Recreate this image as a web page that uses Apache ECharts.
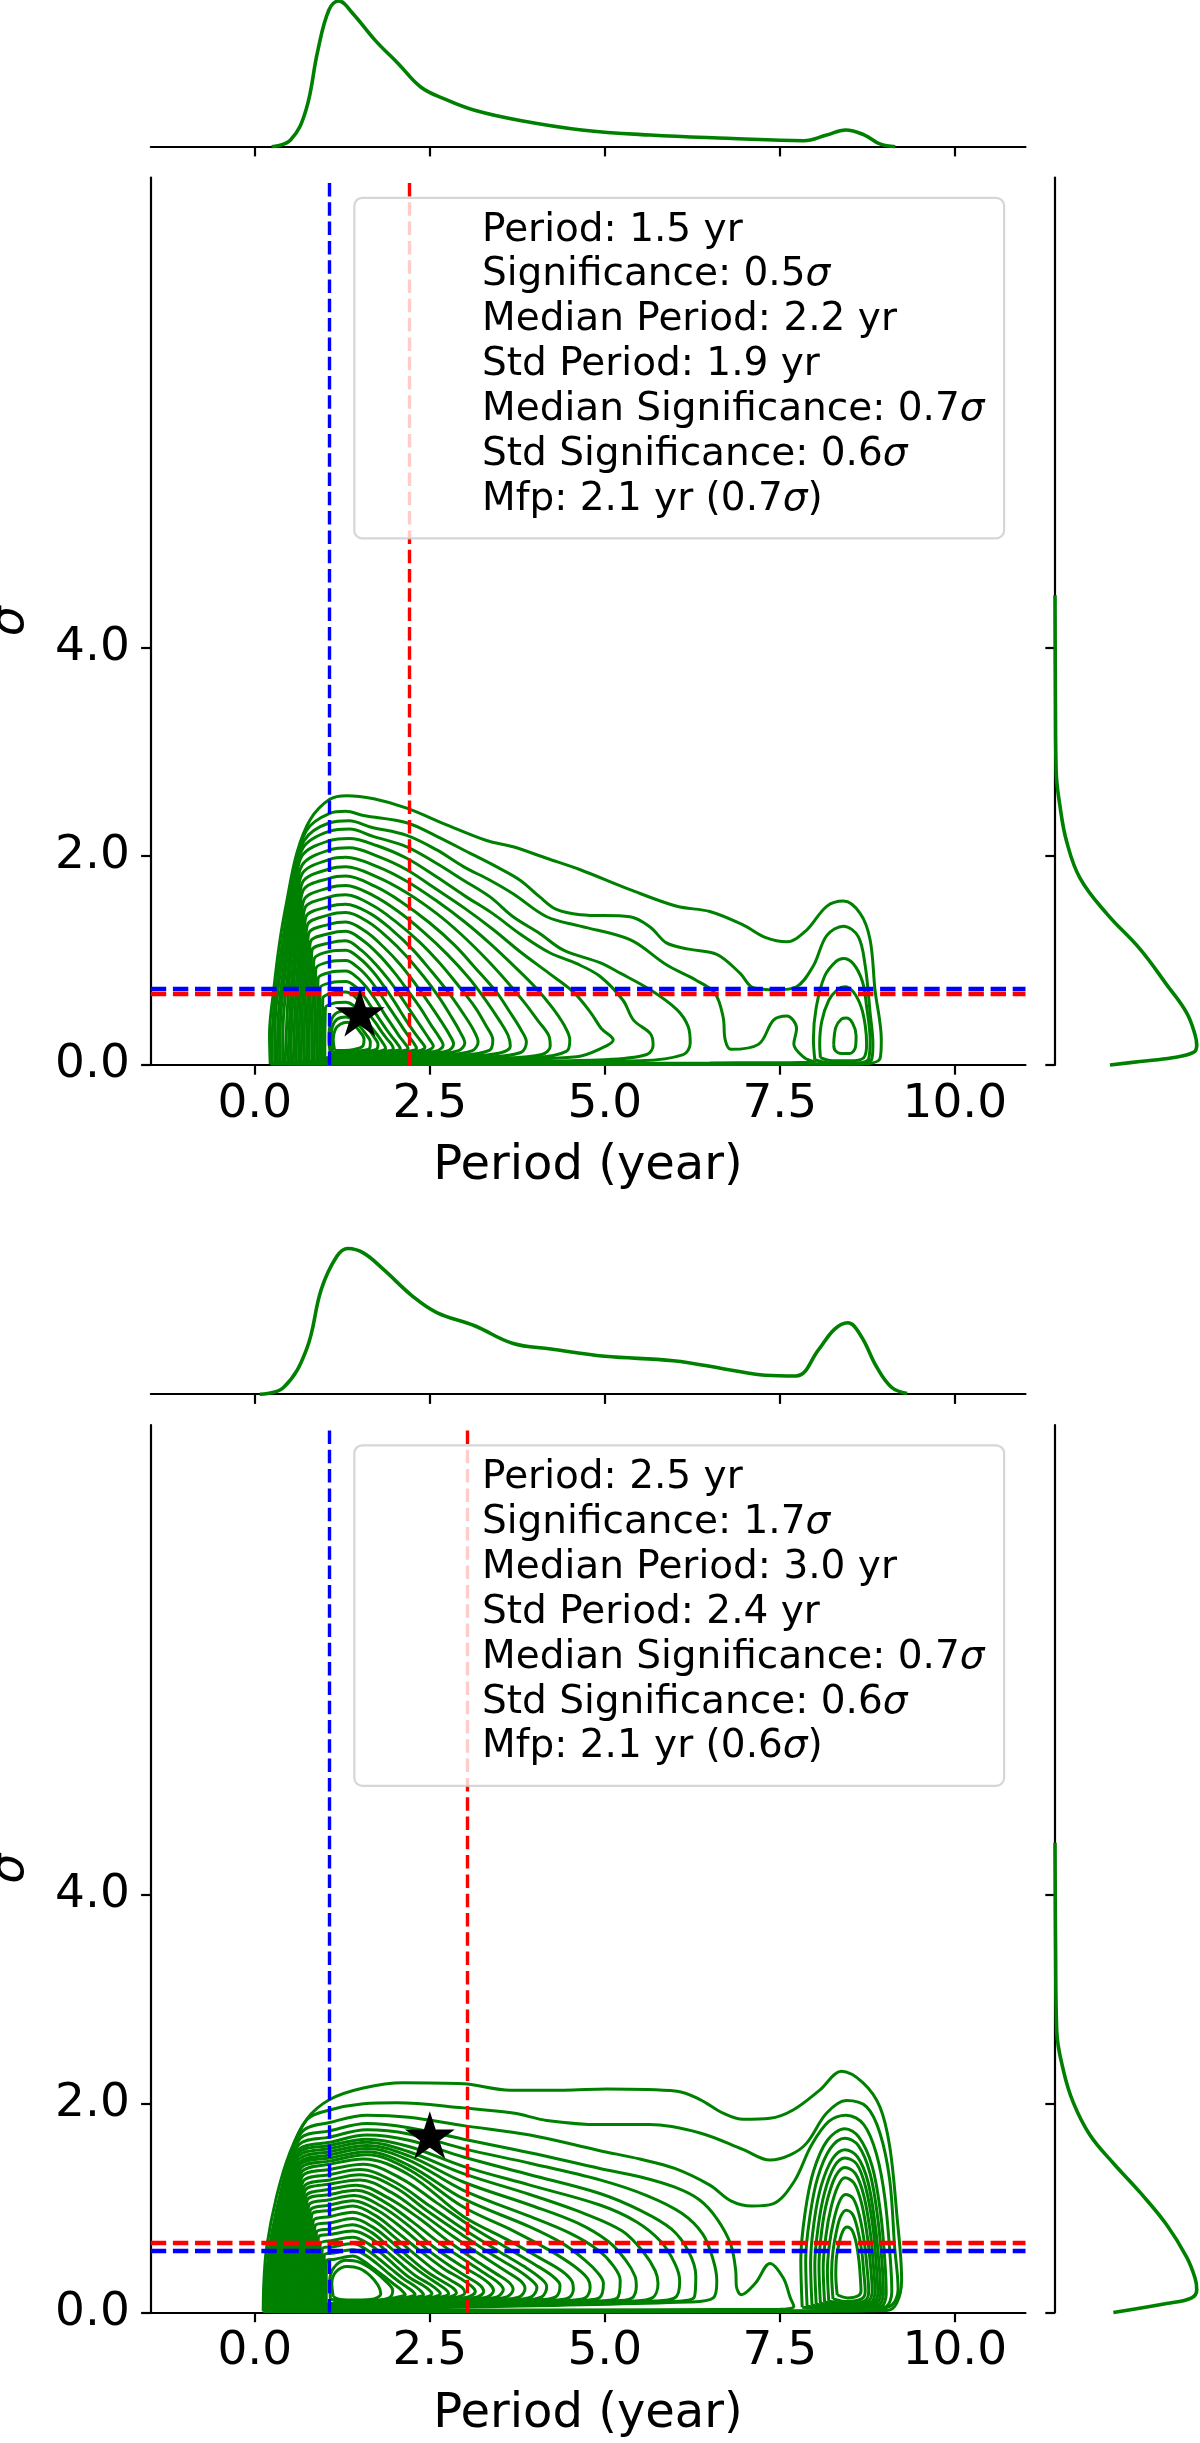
<!DOCTYPE html>
<html><head><meta charset="utf-8">
<script src="https://cdn.jsdelivr.net/npm/echarts@6/dist/echarts.min.js"></script>
<style>html,body{margin:0;padding:0;background:#fff}#c{width:1200px;height:2443px}</style>
</head><body><div id="c"></div>
<script>
// ---------------- axes / ticks ----------------
const X_RANGE = [-1.486, 11.01];
const Y_RANGE = [0, 8.5];
const X_TICKS = [0, 2.5, 5, 7.5, 10];
const Y_TICKS = [0, 2, 4];

// ---------------- top panel ----------------
const TOP_STAR = [[1.5, 0.5]];
const TOP_PERIOD_LINES = [1.07, 2.2];   // blue, red (vertical)
const TOP_SIGMA_LINES = [0.73, 0.68];   // blue, red (horizontal)
const TOP_LEGEND = ["Period: 1.5 yr","Significance: 0.5σ","Median Period: 2.2 yr","Std Period: 1.9 yr","Median Significance: 0.7σ","Std Significance: 0.6σ","Mfp: 2.1 yr (0.7σ)"];
const TOP_PERIOD_KDE = [[0.24,0],[0.51,0.046],[0.73,0.25],[0.9,0.66],[1.06,0.94],[1.2,1.0],[1.39,0.92],[1.72,0.73],[2.05,0.57],[2.37,0.41],[2.7,0.33],[3.14,0.25],[3.79,0.18],[4.67,0.115],[5.65,0.08],[6.75,0.058],[7.84,0.041],[8.17,0.08],[8.44,0.115],[8.71,0.08],[8.93,0.019],[9.15,0]];
const TOP_SIGMA_KDE = [[0,4.5],[0.003,3.5],[0.008,2.82],[0.035,2.48],[0.082,2.14],[0.176,1.79],[0.364,1.45],[0.599,1.11],[0.786,0.77],[0.927,0.5],[0.986,0.29],[0.998,0.19],[0.974,0.12],[0.826,0.07],[0.599,0.034],[0.387,0]];
const TOP_CONTOURS = [
[[0.22,0.01],[0.21,0.3],[0.27,0.72],[0.36,1.2],[0.46,1.58],[0.6,2.03],[0.79,2.35],[1.07,2.545],[1.31,2.58],[1.7,2.55],[2.17,2.46],[2.74,2.3],[3.31,2.15],[3.69,2.09],[4.17,1.98],[4.65,1.87],[5.36,1.68],[6.03,1.52],[6.5,1.47],[6.98,1.34],[7.3,1.22],[7.6,1.18],[7.88,1.29],[8.17,1.52],[8.41,1.57],[8.65,1.45],[8.79,1.2],[8.86,0.72],[8.95,0.24],[8.93,0.06],[8.6,0.008],[4.5,0.005],[1.0,0.006]],
[[0.247,0.015],[0.25,0.3],[0.349,0.97],[0.56,1.82],[0.731,2.24],[1.07,2.41],[1.3,2.43],[1.55,2.39],[2.17,2.32],[2.6,2.19],[3.07,2.03],[3.45,1.9],[3.79,1.77],[4.07,1.61],[4.31,1.49],[4.65,1.44],[5.36,1.42],[5.65,1.32],[5.88,1.17],[6.2,1.11],[6.6,1.06],[6.93,0.88],[7.12,0.74],[7.45,0.72],[7.74,0.75],[7.98,0.95],[8.17,1.24],[8.41,1.33],[8.62,1.23],[8.72,0.95],[8.79,0.5],[8.83,0.2],[8.81,0.05],[8.5,0.015],[4.5,0.01],[1.0,0.012]],
[[0.285,0.02],[0.29,0.4],[0.376,0.94],[0.564,1.76],[0.705,2.15],[1.07,2.32],[1.35,2.34],[1.65,2.28],[2.17,2.2],[2.6,2.06],[2.98,1.9],[3.36,1.77],[3.69,1.64],[4.17,1.42],[4.65,1.33],[5.36,1.2],[5.88,0.96],[6.31,0.81],[6.57,0.69],[6.69,0.46],[6.72,0.24],[6.8,0.15],[7.2,0.2],[7.41,0.43],[7.6,0.47],[7.74,0.35],[7.7,0.2],[7.85,0.07],[8.0,0.03],[6.5,0.02],[3.0,0.015],[1.0,0.016]],
[[0.323,0.02],[0.33,0.4],[0.405,0.9],[0.572,1.7],[0.687,2.08],[1.07,2.24],[1.35,2.26],[1.69,2.19],[2.17,2.09],[2.6,1.93],[2.98,1.77],[3.36,1.61],[3.69,1.42],[4.07,1.26],[4.41,1.1],[4.93,0.98],[5.22,0.88],[5.65,0.72],[6.03,0.53],[6.19,0.37],[6.22,0.21],[6.12,0.1],[5.5,0.04],[3.0,0.02],[1.0,0.02]],
[[0.359,0.02],[0.365,0.4],[0.432,0.87],[0.579,1.63],[0.67,2.0],[1.07,2.15],[1.35,2.17],[1.75,2.1],[2.17,1.98],[2.6,1.8],[3.0,1.62],[3.4,1.45],[3.8,1.25],[4.2,1.08],[4.6,0.97],[4.93,0.85],[5.26,0.62],[5.41,0.43],[5.65,0.3],[5.69,0.19],[5.6,0.1],[5.0,0.05],[2.5,0.025],[1.0,0.022]],
[[0.398,0.02],[0.405,0.4],[0.463,0.83],[0.59,1.56],[0.672,1.91],[1.07,2.06],[1.35,2.08],[1.75,2.0],[2.17,1.87],[2.6,1.68],[3.0,1.5],[3.4,1.3],[3.8,1.08],[4.2,0.88],[4.55,0.7],[4.8,0.5],[4.95,0.35],[5.12,0.24],[4.95,0.16],[4.6,0.08],[2.5,0.03],[1.0,0.025]],
[[0.434,0.02],[0.49,0.8],[0.601,1.49],[0.674,1.83],[1.07,1.97],[1.3,1.99],[1.75,1.9],[2.17,1.76],[2.6,1.57],[3.0,1.37],[3.35,1.17],[3.7,0.95],[4.0,0.75],[4.25,0.55],[4.42,0.38],[4.5,0.24],[4.45,0.13],[4.0,0.07],[2.0,0.035],[1.0,0.03]],
[[0.474,0.02],[0.523,0.76],[0.619,1.43],[0.681,1.75],[1.07,1.88],[1.3,1.9],[1.75,1.8],[2.17,1.65],[2.6,1.45],[2.95,1.25],[3.3,1.02],[3.6,0.8],[3.85,0.6],[4.05,0.42],[4.2,0.28],[4.22,0.18],[4.1,0.1],[3.5,0.065],[1.8,0.04],[1.0,0.032]],
[[0.509,0.02],[0.551,0.72],[0.634,1.36],[0.688,1.67],[1.07,1.79],[1.3,1.81],[1.72,1.71],[2.1,1.56],[2.5,1.36],[2.85,1.15],[3.15,0.93],[3.45,0.7],[3.65,0.5],[3.8,0.34],[3.88,0.22],[3.8,0.12],[3.3,0.075],[1.8,0.045],[1.0,0.035]],
[[0.55,0.02],[0.586,0.69],[0.656,1.29],[0.701,1.58],[1.07,1.7],[1.3,1.72],[1.7,1.62],[2.05,1.47],[2.4,1.28],[2.75,1.06],[3.05,0.84],[3.3,0.62],[3.5,0.42],[3.62,0.28],[3.65,0.18],[3.5,0.115],[3.0,0.08],[1.7,0.05],[1.0,0.038]],
[[0.588,0.02],[0.617,0.65],[0.677,1.22],[0.713,1.5],[1.07,1.61],[1.3,1.63],[1.68,1.53],[2.0,1.38],[2.35,1.18],[2.65,0.97],[2.92,0.75],[3.15,0.55],[3.3,0.38],[3.4,0.24],[3.35,0.14],[2.9,0.09],[1.6,0.055],[1.0,0.04]],
[[0.625,0.02],[0.65,0.62],[0.699,1.16],[0.73,1.42],[1.07,1.52],[1.3,1.54],[1.65,1.45],[1.95,1.3],[2.25,1.11],[2.52,0.9],[2.76,0.7],[2.97,0.5],[3.12,0.34],[3.19,0.22],[3.1,0.135],[2.7,0.095],[1.5,0.06],[1.0,0.042]],
[[0.662,0.025],[0.682,0.58],[0.723,1.1],[0.75,1.34],[1.07,1.44],[1.3,1.46],[1.62,1.37],[1.9,1.22],[2.17,1.04],[2.42,0.84],[2.63,0.65],[2.8,0.47],[2.93,0.32],[3.0,0.21],[2.9,0.135],[2.5,0.1],[1.5,0.065],[1.0,0.045]],
[[0.7,0.025],[0.715,0.55],[0.748,1.03],[0.77,1.26],[1.07,1.35],[1.3,1.37],[1.58,1.28],[1.84,1.13],[2.08,0.96],[2.3,0.77],[2.5,0.58],[2.66,0.42],[2.78,0.29],[2.84,0.2],[2.75,0.135],[2.35,0.105],[1.5,0.07],[1.0,0.048]],
[[0.738,0.025],[0.75,0.51],[0.776,0.96],[0.794,1.18],[1.07,1.26],[1.3,1.28],[1.55,1.19],[1.78,1.05],[2.0,0.88],[2.2,0.7],[2.38,0.53],[2.52,0.38],[2.63,0.27],[2.69,0.19],[2.6,0.135],[2.2,0.11],[1.5,0.072],[1.0,0.05]],
[[0.774,0.03],[0.783,0.48],[0.804,0.89],[0.817,1.1],[1.07,1.17],[1.3,1.19],[1.52,1.1],[1.72,0.97],[1.92,0.81],[2.1,0.64],[2.26,0.48],[2.39,0.35],[2.49,0.25],[2.55,0.18],[2.45,0.135],[2.1,0.115],[1.5,0.075],[1.0,0.055]],
[[0.814,0.03],[0.82,0.44],[0.836,0.83],[0.844,1.01],[1.08,1.09],[1.3,1.1],[1.5,1.02],[1.68,0.9],[1.85,0.75],[2.01,0.59],[2.15,0.44],[2.27,0.32],[2.37,0.23],[2.43,0.17],[2.33,0.135],[2.0,0.118],[1.5,0.078],[1.0,0.058]],
[[0.85,0.035],[0.855,0.4],[0.865,0.75],[0.871,0.92],[1.08,0.99],[1.3,1.0],[1.48,0.93],[1.64,0.82],[1.79,0.68],[1.93,0.54],[2.06,0.41],[2.17,0.3],[2.26,0.22],[2.31,0.16],[2.22,0.135],[1.9,0.12],[1.5,0.08],[1.0,0.06]],
[[0.889,0.035],[0.893,0.36],[0.899,0.68],[0.904,0.83],[1.09,0.89],[1.3,0.9],[1.46,0.84],[1.6,0.74],[1.73,0.62],[1.85,0.49],[1.96,0.38],[2.06,0.28],[2.14,0.21],[2.19,0.16],[2.1,0.135],[1.85,0.122],[1.5,0.082],[1.0,0.062]],
[[0.924,0.04],[0.927,0.32],[0.931,0.6],[0.935,0.74],[1.1,0.79],[1.3,0.8],[1.44,0.75],[1.56,0.66],[1.67,0.55],[1.78,0.44],[1.88,0.34],[1.97,0.26],[2.04,0.2],[2.08,0.155],[2.0,0.135],[1.8,0.124],[1.5,0.084],[1.0,0.064]],
[[0.965,0.04],[0.966,0.28],[0.968,0.52],[0.972,0.64],[1.11,0.69],[1.3,0.7],[1.42,0.66],[1.53,0.58],[1.63,0.49],[1.73,0.4],[1.82,0.31],[1.9,0.24],[1.96,0.19],[1.98,0.15],[1.9,0.135],[1.72,0.125],[1.45,0.086],[1.03,0.066]],
[[1.0,0.05],[1.0,0.24],[1.005,0.45],[1.01,0.55],[1.12,0.59],[1.3,0.6],[1.41,0.57],[1.51,0.5],[1.6,0.42],[1.69,0.34],[1.77,0.27],[1.83,0.21],[1.87,0.16],[1.8,0.135],[1.65,0.12],[1.4,0.088],[1.06,0.07]],
[[1.08,0.1],[1.06,0.25],[1.08,0.4],[1.15,0.49],[1.3,0.52],[1.42,0.49],[1.52,0.43],[1.62,0.35],[1.7,0.27],[1.76,0.2],[1.74,0.15],[1.6,0.13],[1.4,0.11],[1.2,0.1]],
[[1.11,0.12],[1.09,0.25],[1.11,0.37],[1.18,0.44],[1.3,0.46],[1.41,0.43],[1.5,0.37],[1.58,0.3],[1.65,0.22],[1.64,0.16],[1.5,0.135],[1.3,0.125]],
[[1.14,0.14],[1.12,0.25],[1.15,0.34],[1.22,0.39],[1.32,0.41],[1.42,0.38],[1.5,0.32],[1.56,0.25],[1.54,0.18],[1.42,0.15],[1.28,0.14]],
// loops around the 8.4 yr peak
[[8.0,0.05],[7.98,0.25],[8.02,0.55],[8.14,0.85],[8.3,0.99],[8.41,1.02],[8.55,0.97],[8.68,0.8],[8.74,0.56],[8.79,0.24],[8.77,0.06],[8.6,0.02],[8.2,0.02]],
[[8.08,0.07],[8.07,0.2],[8.1,0.42],[8.2,0.62],[8.32,0.72],[8.43,0.75],[8.55,0.7],[8.66,0.56],[8.72,0.38],[8.74,0.2],[8.7,0.07],[8.5,0.04],[8.25,0.04]],
[[8.27,0.2],[8.3,0.36],[8.38,0.44],[8.45,0.45],[8.54,0.4],[8.59,0.28],[8.58,0.17],[8.5,0.11],[8.38,0.11],[8.29,0.14]]
];

// ---------------- bottom panel ----------------
const BOT_STAR = [[2.5, 1.7]];
const BOT_PERIOD_LINES = [1.07, 3.03];
const BOT_SIGMA_LINES = [0.59, 0.67];
const BOT_LEGEND = ["Period: 2.5 yr","Significance: 1.7σ","Median Period: 3.0 yr","Std Period: 2.4 yr","Median Significance: 0.7σ","Std Significance: 0.6σ","Mfp: 2.1 yr (0.6σ)"];
const BOT_PERIOD_KDE = [[0.07,0],[0.41,0.046],[0.74,0.31],[0.95,0.72],[1.17,0.945],[1.33,1.0],[1.55,0.97],[1.83,0.86],[2.26,0.67],[2.6,0.56],[3.14,0.47],[3.68,0.35],[4.23,0.31],[5.0,0.26],[5.98,0.23],[6.75,0.17],[7.29,0.13],[7.73,0.125],[8.06,0.31],[8.28,0.445],[8.47,0.49],[8.66,0.4],[8.88,0.19],[9.1,0.046],[9.32,0.005]];
const BOT_SIGMA_KDE = [[0,4.5],[0.004,3.5],[0.012,2.7],[0.059,2.32],[0.129,2.01],[0.246,1.7],[0.411,1.43],[0.599,1.15],[0.786,0.84],[0.927,0.53],[0.986,0.33],[0.998,0.22],[0.962,0.14],[0.786,0.086],[0.411,0]];
const BOT_CONTOURS = [
[[0.12,0.01],[0.13,0.3],[0.17,0.63],[0.31,1.11],[0.5,1.53],[0.74,1.85],[1.07,2.04],[1.55,2.15],[2.12,2.2],[2.98,2.19],[3.65,2.13],[4.41,2.13],[5.03,2.14],[6.03,2.12],[6.36,2.04],[6.69,1.91],[6.98,1.85],[7.36,1.86],[7.69,1.94],[8.07,2.13],[8.38,2.31],[8.69,2.2],[8.93,1.97],[9.07,1.59],[9.17,0.95],[9.24,0.31],[9.17,0.09],[9.03,0.02],[4.5,0.005],[1.0,0.006]],
[[0.151,0.015],[0.16,0.3],[0.254,0.8],[0.513,1.51],[0.749,1.85],[1.07,1.94],[1.55,2.0],[2.03,2.01],[2.98,1.96],[3.69,1.91],[4.17,1.84],[4.93,1.8],[5.64,1.8],[6.36,1.72],[6.98,1.56],[7.36,1.46],[7.65,1.51],[7.88,1.62],[8.17,1.91],[8.45,2.03],[8.74,1.97],[8.93,1.72],[9.07,1.27],[9.14,0.63],[9.19,0.22],[9.07,0.06],[8.5,0.015],[4.5,0.01],[1.0,0.012]],
[[0.182,0.015],[0.19,0.3],[0.27,0.76],[0.493,1.42],[0.687,1.74],[1.07,1.82],[1.6,1.89],[2.2,1.87],[2.98,1.79],[3.93,1.7],[4.93,1.55],[5.5,1.47],[6.0,1.38],[6.5,1.22],[6.8,1.07],[7.1,1.02],[7.4,1.04],[7.7,1.25],[7.95,1.6],[8.2,1.83],[8.45,1.89],[8.7,1.8],[8.88,1.52],[9.0,1.1],[9.08,0.5],[9.1,0.2],[9.0,0.05],[8.5,0.02],[4.5,0.015],[1.0,0.016]],
[[0.213,0.02],[0.22,0.3],[0.29,0.72],[0.488,1.36],[0.652,1.67],[1.07,1.74],[1.6,1.81],[2.2,1.77],[2.98,1.66],[3.93,1.53],[4.93,1.38],[5.5,1.3],[6.0,1.2],[6.35,1.08],[6.6,0.9],[6.8,0.65],[6.87,0.4],[6.88,0.25],[6.95,0.17],[7.15,0.28],[7.36,0.47],[7.55,0.33],[7.65,0.14],[7.7,0.06],[7.5,0.03],[4.0,0.025],[1.0,0.02]],
[[0.244,0.02],[0.25,0.3],[0.311,0.7],[0.492,1.31],[0.633,1.61],[1.07,1.68],[1.6,1.75],[2.2,1.71],[2.98,1.57],[3.93,1.43],[4.93,1.27],[5.6,1.12],[6.1,0.95],[6.4,0.75],[6.55,0.5],[6.6,0.3],[6.55,0.14],[6.2,0.1],[1.5,0.032],[1.0,0.025]],
[[0.275,0.02],[0.28,0.3],[0.335,0.68],[0.499,1.28],[0.622,1.56],[1.07,1.63],[1.6,1.7],[2.2,1.65],[2.98,1.49],[3.93,1.32],[4.93,1.14],[5.5,0.98],[5.95,0.8],[6.2,0.58],[6.3,0.35],[6.28,0.15],[5.95,0.105],[1.5,0.035],[1.0,0.027]],
[[0.306,0.02],[0.31,0.3],[0.36,0.66],[0.51,1.25],[0.617,1.53],[1.07,1.6],[1.6,1.66],[2.2,1.59],[2.98,1.4],[3.93,1.22],[4.93,1.03],[5.45,0.87],[5.8,0.68],[6.0,0.47],[6.07,0.3],[6.0,0.14],[5.7,0.11],[1.5,0.038],[1.0,0.029]],
[[0.337,0.02],[0.34,0.3],[0.387,0.65],[0.525,1.22],[0.62,1.5],[1.07,1.57],[1.6,1.63],[2.2,1.54],[2.98,1.33],[3.93,1.13],[4.7,0.95],[5.25,0.78],[5.55,0.58],[5.72,0.4],[5.76,0.28],[5.68,0.14],[5.4,0.11],[1.5,0.04],[1.0,0.031]],
[[0.368,0.02],[0.37,0.3],[0.413,0.64],[0.541,1.2],[0.63,1.47],[1.07,1.54],[1.6,1.6],[2.2,1.5],[2.98,1.25],[3.93,1.03],[4.6,0.86],[5.05,0.68],[5.3,0.5],[5.43,0.35],[5.45,0.25],[5.38,0.135],[5.1,0.11],[1.5,0.042],[1.0,0.033]],
[[0.399,0.02],[0.4,0.3],[0.44,0.63],[0.557,1.18],[0.64,1.44],[1.07,1.51],[1.6,1.57],[2.2,1.46],[2.98,1.17],[3.93,0.92],[4.5,0.76],[4.9,0.6],[5.12,0.45],[5.22,0.31],[5.18,0.14],[4.9,0.11],[1.5,0.045],[1.0,0.035]],
[[0.43,0.02],[0.432,0.3],[0.466,0.62],[0.573,1.16],[0.652,1.42],[1.07,1.48],[1.6,1.54],[2.2,1.41],[2.98,1.09],[3.93,0.82],[4.4,0.66],[4.72,0.5],[4.9,0.38],[4.98,0.28],[4.92,0.14],[4.65,0.115],[1.5,0.048],[1.0,0.037]],
[[0.461,0.02],[0.463,0.3],[0.494,0.6],[0.591,1.13],[0.664,1.39],[1.07,1.45],[1.6,1.51],[2.2,1.37],[2.98,1.01],[3.7,0.78],[4.2,0.6],[4.55,0.45],[4.75,0.33],[4.79,0.24],[4.72,0.14],[4.45,0.115],[1.5,0.05],[1.0,0.039]],
[[0.492,0.02],[0.494,0.3],[0.521,0.59],[0.607,1.1],[0.674,1.35],[1.07,1.42],[1.55,1.47],[2.2,1.32],[2.98,0.92],[3.6,0.7],[4.05,0.53],[4.38,0.4],[4.53,0.3],[4.55,0.22],[4.48,0.14],[4.2,0.115],[1.5,0.053],[1.0,0.041]],
[[0.523,0.02],[0.525,0.3],[0.549,0.57],[0.625,1.07],[0.683,1.31],[1.07,1.37],[1.55,1.42],[2.1,1.28],[2.6,1.05],[3.1,0.82],[3.6,0.62],[4.0,0.46],[4.25,0.35],[4.36,0.26],[4.3,0.15],[4.0,0.12],[1.5,0.056],[1.0,0.044]],
[[0.554,0.025],[0.556,0.3],[0.579,0.55],[0.645,1.03],[0.694,1.26],[1.07,1.32],[1.5,1.37],[2.0,1.25],[2.5,1.02],[3.0,0.79],[3.5,0.58],[3.85,0.44],[4.08,0.33],[4.17,0.25],[4.1,0.15],[3.8,0.12],[1.5,0.058],[1.0,0.046]],
[[0.585,0.025],[0.587,0.3],[0.607,0.53],[0.665,0.99],[0.706,1.21],[1.07,1.27],[1.5,1.32],[2.0,1.2],[2.45,0.98],[2.95,0.75],[3.4,0.55],[3.75,0.41],[3.95,0.31],[4.03,0.24],[3.95,0.15],[3.65,0.12],[1.5,0.06],[1.0,0.048]],
[[0.616,0.025],[0.618,0.3],[0.635,0.51],[0.685,0.95],[0.719,1.17],[1.07,1.23],[1.5,1.27],[1.95,1.15],[2.4,0.94],[2.85,0.72],[3.3,0.52],[3.6,0.39],[3.8,0.3],[3.86,0.23],[3.78,0.15],[3.5,0.125],[1.5,0.063],[1.0,0.05]],
[[0.647,0.025],[0.649,0.3],[0.665,0.49],[0.707,0.92],[0.734,1.12],[1.07,1.18],[1.45,1.22],[1.9,1.1],[2.35,0.9],[2.75,0.69],[3.15,0.5],[3.45,0.37],[3.63,0.29],[3.69,0.22],[3.6,0.15],[3.3,0.125],[1.5,0.066],[1.0,0.052]],
[[0.678,0.03],[0.68,0.3],[0.694,0.47],[0.729,0.88],[0.751,1.08],[1.07,1.13],[1.45,1.17],[1.85,1.06],[2.25,0.87],[2.65,0.66],[3.05,0.48],[3.32,0.36],[3.49,0.28],[3.55,0.22],[3.46,0.15],[3.15,0.13],[1.5,0.068],[1.0,0.054]],
[[0.709,0.03],[0.71,0.3],[0.722,0.45],[0.752,0.84],[0.771,1.03],[1.07,1.08],[1.42,1.12],[1.8,1.02],[2.2,0.83],[2.55,0.63],[2.92,0.46],[3.2,0.35],[3.36,0.27],[3.41,0.21],[3.32,0.15],[3.0,0.13],[1.5,0.07],[1.0,0.056]],
[[0.74,0.03],[0.741,0.3],[0.752,0.43],[0.776,0.8],[0.793,0.98],[1.08,1.03],[1.4,1.07],[1.75,0.98],[2.12,0.8],[2.47,0.6],[2.8,0.44],[3.06,0.33],[3.22,0.26],[3.27,0.2],[3.18,0.15],[2.9,0.13],[1.5,0.073],[1.0,0.058]],
[[0.771,0.035],[0.772,0.3],[0.781,0.41],[0.8,0.77],[0.815,0.94],[1.08,0.98],[1.4,1.02],[1.72,0.93],[2.05,0.76],[2.38,0.58],[2.7,0.42],[2.95,0.32],[3.1,0.25],[3.15,0.2],[3.05,0.15],[2.8,0.13],[1.5,0.076],[1.0,0.06]],
[[0.802,0.035],[0.81,0.38],[0.824,0.72],[0.836,0.88],[1.08,0.92],[1.4,0.96],[1.7,0.88],[2.0,0.72],[2.3,0.55],[2.58,0.4],[2.82,0.3],[2.96,0.24],[3.0,0.19],[2.9,0.15],[2.65,0.13],[1.5,0.078],[1.0,0.063]],
[[0.833,0.04],[0.84,0.36],[0.85,0.68],[0.86,0.83],[1.09,0.86],[1.4,0.9],[1.68,0.82],[1.95,0.68],[2.22,0.52],[2.48,0.38],[2.7,0.29],[2.84,0.23],[2.88,0.19],[2.78,0.15],[2.55,0.13],[1.5,0.08],[1.0,0.066]],
[[0.864,0.04],[0.868,0.34],[0.875,0.63],[0.882,0.77],[1.09,0.8],[1.4,0.84],[1.66,0.77],[1.9,0.64],[2.15,0.5],[2.4,0.37],[2.6,0.28],[2.73,0.22],[2.77,0.18],[2.67,0.15],[2.45,0.13],[1.5,0.083],[1.0,0.069]],
[[0.895,0.045],[0.898,0.31],[0.903,0.58],[0.908,0.72],[1.1,0.75],[1.4,0.78],[1.64,0.72],[1.86,0.6],[2.08,0.47],[2.3,0.35],[2.5,0.27],[2.62,0.21],[2.65,0.18],[2.56,0.15],[2.35,0.13],[1.5,0.086],[1.0,0.072]],
[[0.926,0.05],[0.928,0.29],[0.931,0.54],[0.935,0.66],[1.11,0.69],[1.4,0.72],[1.62,0.66],[1.82,0.56],[2.02,0.44],[2.22,0.33],[2.4,0.26],[2.5,0.21],[2.53,0.18],[2.45,0.15],[2.25,0.13],[1.5,0.088],[1.0,0.075]],
[[0.957,0.05],[0.958,0.26],[0.96,0.5],[0.962,0.61],[1.12,0.63],[1.4,0.66],[1.6,0.6],[1.78,0.51],[1.96,0.41],[2.13,0.32],[2.29,0.25],[2.38,0.2],[2.41,0.17],[2.33,0.15],[2.15,0.13],[1.5,0.09],[1.0,0.078]],
[[0.988,0.055],[0.988,0.24],[0.99,0.45],[0.992,0.55],[1.13,0.57],[1.4,0.6],[1.58,0.55],[1.74,0.47],[1.9,0.38],[2.05,0.3],[2.18,0.24],[2.26,0.2],[2.29,0.17],[2.2,0.15],[2.05,0.13],[1.5,0.093],[1.05,0.082]],
[[1.02,0.06],[1.02,0.22],[1.02,0.4],[1.025,0.5],[1.14,0.51],[1.4,0.54],[1.56,0.49],[1.7,0.42],[1.84,0.35],[1.97,0.28],[2.07,0.23],[2.13,0.19],[2.15,0.17],[2.05,0.15],[1.9,0.13],[1.5,0.095],[1.08,0.085]],
[[1.08,0.13],[1.07,0.3],[1.13,0.43],[1.3,0.5],[1.5,0.48],[1.7,0.4],[1.87,0.3],[1.97,0.21],[1.92,0.14],[1.7,0.11],[1.4,0.105],[1.17,0.11]],
[[1.12,0.15],[1.1,0.28],[1.16,0.39],[1.32,0.44],[1.5,0.42],[1.65,0.35],[1.76,0.26],[1.8,0.18],[1.7,0.13],[1.45,0.12],[1.22,0.125]],
// loops around the 8.4 yr peak
[[7.82,0.05],[7.8,0.5],[7.86,0.95],[7.98,1.35],[8.18,1.65],[8.43,1.76],[8.63,1.68],[8.82,1.4],[8.94,0.95],[9.0,0.5],[9.02,0.18],[8.93,0.05],[8.4,0.03]],
[[7.89,0.06],[7.87,0.5],[7.93,0.92],[8.04,1.29],[8.22,1.57],[8.43,1.67],[8.62,1.6],[8.79,1.33],[8.9,0.9],[8.96,0.48],[8.98,0.18],[8.89,0.06],[8.4,0.035]],
[[7.96,0.07],[7.94,0.48],[7.99,0.87],[8.09,1.21],[8.25,1.47],[8.43,1.56],[8.61,1.49],[8.76,1.25],[8.86,0.85],[8.92,0.45],[8.94,0.18],[8.85,0.07],[8.4,0.045]],
[[8.02,0.08],[8.0,0.46],[8.05,0.83],[8.14,1.15],[8.28,1.4],[8.43,1.48],[8.6,1.42],[8.73,1.19],[8.83,0.82],[8.88,0.44],[8.9,0.19],[8.82,0.08],[8.4,0.055]],
[[8.08,0.09],[8.06,0.45],[8.1,0.79],[8.18,1.08],[8.3,1.31],[8.43,1.39],[8.58,1.33],[8.7,1.12],[8.79,0.78],[8.84,0.43],[8.86,0.2],[8.79,0.09],[8.42,0.065]],
[[8.14,0.1],[8.12,0.43],[8.16,0.74],[8.23,1.0],[8.33,1.21],[8.43,1.29],[8.56,1.24],[8.67,1.04],[8.75,0.73],[8.8,0.42],[8.82,0.2],[8.75,0.1],[8.44,0.075]],
[[8.2,0.11],[8.18,0.4],[8.21,0.66],[8.27,0.88],[8.35,1.06],[8.44,1.13],[8.55,1.09],[8.64,0.92],[8.71,0.66],[8.75,0.4],[8.77,0.2],[8.71,0.11],[8.45,0.085]],
[[8.26,0.13],[8.24,0.38],[8.26,0.59],[8.31,0.78],[8.37,0.92],[8.45,0.98],[8.54,0.94],[8.61,0.8],[8.67,0.59],[8.7,0.38],[8.72,0.2],[8.67,0.13],[8.46,0.105]],
[[8.32,0.17],[8.3,0.36],[8.31,0.53],[8.35,0.67],[8.4,0.78],[8.46,0.82],[8.53,0.79],[8.59,0.67],[8.63,0.5],[8.65,0.34],[8.66,0.21],[8.62,0.16],[8.47,0.14]]
];

// ---------------- build ----------------
const GREEN = '#008000';
const FONT = 'DejaVu Sans';
const PANEL_DY = [0, 1247.5];
const panels = [
  {contours: TOP_CONTOURS, pk: TOP_PERIOD_KDE, sk: TOP_SIGMA_KDE, star: TOP_STAR, pl: TOP_PERIOD_LINES, sl: TOP_SIGMA_LINES, legend: TOP_LEGEND},
  {contours: BOT_CONTOURS, pk: BOT_PERIOD_KDE, sk: BOT_SIGMA_KDE, star: BOT_STAR, pl: BOT_PERIOD_LINES, sl: BOT_SIGMA_LINES, legend: BOT_LEGEND}
];

const grid = [], xAxis = [], yAxis = [], series = [], graphic = [];
const axisLineStyle = {color: '#000', width: 2.2};
const fmt = v => v.toFixed(1);

panels.forEach((p, i) => {
  const dy = PANEL_DY[i];
  const g0 = 3 * i;
  grid.push({left: 150.8, top: dy, width: 874.7, height: 146.7});
  grid.push({left: 150.8, top: dy + 177.6, width: 874.7, height: 887.4});
  grid.push({left: 1055, top: dy + 177.6, width: 145, height: 887.4});

  xAxis.push({gridIndex: g0, type: 'value', min: X_RANGE[0], max: X_RANGE[1],
    axisLine: {show: true, onZero: false, lineStyle: axisLineStyle},
    axisTick: {show: true, length: 9.7, lineStyle: axisLineStyle, customValues: X_TICKS},
    axisLabel: {show: false}, splitLine: {show: false}});
  yAxis.push({gridIndex: g0, type: 'value', min: 0, max: 1.007, show: false, splitLine: {show: false}});
  xAxis.push({gridIndex: g0 + 1, type: 'value', min: X_RANGE[0], max: X_RANGE[1],
    axisLine: {show: true, onZero: false, lineStyle: axisLineStyle},
    axisTick: {show: true, length: 9.7, lineStyle: axisLineStyle, customValues: X_TICKS},
    axisLabel: {show: true, customValues: X_TICKS, formatter: fmt, fontSize: 47, fontFamily: FONT, color: '#000', margin: 16},
    splitLine: {show: false}});
  yAxis.push({gridIndex: g0 + 1, type: 'value', min: Y_RANGE[0], max: Y_RANGE[1],
    axisLine: {show: true, onZero: false, lineStyle: axisLineStyle},
    axisTick: {show: true, length: 9.7, lineStyle: axisLineStyle, customValues: Y_TICKS},
    axisLabel: {show: true, customValues: Y_TICKS, formatter: fmt, fontSize: 47, fontFamily: FONT, color: '#000', margin: 21},
    splitLine: {show: false}});
  xAxis.push({gridIndex: g0 + 2, type: 'value', min: 0, max: 1.021, show: false, splitLine: {show: false}});
  yAxis.push({gridIndex: g0 + 2, type: 'value', min: Y_RANGE[0], max: Y_RANGE[1],
    axisLine: {show: true, onZero: false, lineStyle: axisLineStyle},
    axisTick: {show: true, length: 9.7, lineStyle: axisLineStyle, customValues: Y_TICKS},
    axisLabel: {show: false}, splitLine: {show: false}});

  p.contours.forEach(pts => {
    series.push({type: 'line', xAxisIndex: g0 + 1, yAxisIndex: g0 + 1, data: pts.concat([pts[0]]),
      smooth: 0.35, symbol: 'none', silent: true, z: 2,
      lineStyle: {color: GREEN, width: 3.0}});
  });
  series.push({type: 'line', xAxisIndex: g0, yAxisIndex: g0, data: p.pk, smooth: 0.4, symbol: 'none', silent: true,
    lineStyle: {color: GREEN, width: 3.6}});
  series.push({type: 'line', xAxisIndex: g0 + 2, yAxisIndex: g0 + 2, data: p.sk, smooth: 0.4, symbol: 'none', silent: true,
    clip: false, lineStyle: {color: GREEN, width: 3.6}});
  series.push({type: 'line', xAxisIndex: g0 + 1, yAxisIndex: g0 + 1, data: p.star, symbol: 'none', silent: true, z: 3,
    lineStyle: {opacity: 0},
    markLine: {silent: true, symbol: ['none', 'none'], label: {show: false}, animation: false,
      data: [
        {xAxis: p.pl[0], lineStyle: {color: '#0000ff', width: 3.4, type: [13.5, 5.8]}},
        {xAxis: p.pl[1], lineStyle: {color: '#ff0000', width: 3.4, type: [13.5, 5.8]}},
        {yAxis: p.sl[0], lineStyle: {color: '#0000ff', width: 4.4, type: [15.4, 6.7]}},
        {yAxis: p.sl[1], lineStyle: {color: '#ff0000', width: 4.4, type: [15.4, 6.7]}}
      ]}});
  series.push({type: 'scatter', xAxisIndex: g0 + 1, yAxisIndex: g0 + 1, data: p.star, z: 6, silent: true,
    symbol: 'path://M50 0 L61.23 34.55 L97.55 34.55 L68.17 55.9 L79.39 90.45 L50 69.1 L20.61 90.45 L31.83 55.9 L2.45 34.55 L38.77 34.55 Z',
    symbolKeepAspect: true, symbolSize: 50, itemStyle: {color: '#000', opacity: 1}});

  graphic.push({type: 'rect', z: 100, shape: {x: 354.3, y: dy + 197.8, width: 649.8, height: 340.6, r: 8},
    style: {fill: 'rgba(255,255,255,0.8)', stroke: 'rgba(204,204,204,0.8)', lineWidth: 2.2}});
  p.legend.forEach((t, k) => {
    const rt = '{n|' + t.split('σ').join('}{s|σ}{n|') + '}';
    graphic.push({type: 'text', z: 101, x: 482, y: dy + 230.4 + 44.9 * k,
      style: {text: rt, align: 'left', verticalAlign: 'middle', fill: '#000', font: '39px "DejaVu Sans"',
        rich: {n: {fontSize: 39, fontFamily: FONT, fill: '#000'}, s: {fontSize: 39, fontFamily: FONT, fontStyle: 'italic', fill: '#000'}}}});
  });
  graphic.push({type: 'text', z: 101, x: 588, y: dy + 1167,
    style: {text: 'Period (year)', align: 'center', verticalAlign: 'middle', fill: '#000', fontSize: 48, fontFamily: FONT}});
  graphic.push({type: 'text', z: 101, x: 11, y: dy + 621, rotation: Math.PI / 2,
    style: {text: 'σ', align: 'center', verticalAlign: 'middle', fill: '#000', fontSize: 48, fontFamily: FONT, fontStyle: 'italic'}});
});

const chart = echarts.init(document.getElementById('c'), null, {renderer: 'canvas'});
chart.setOption({
  animation: false,
  backgroundColor: '#fff',
  textStyle: {fontFamily: FONT},
  grid, xAxis, yAxis, series, graphic
});
</script></body></html>
